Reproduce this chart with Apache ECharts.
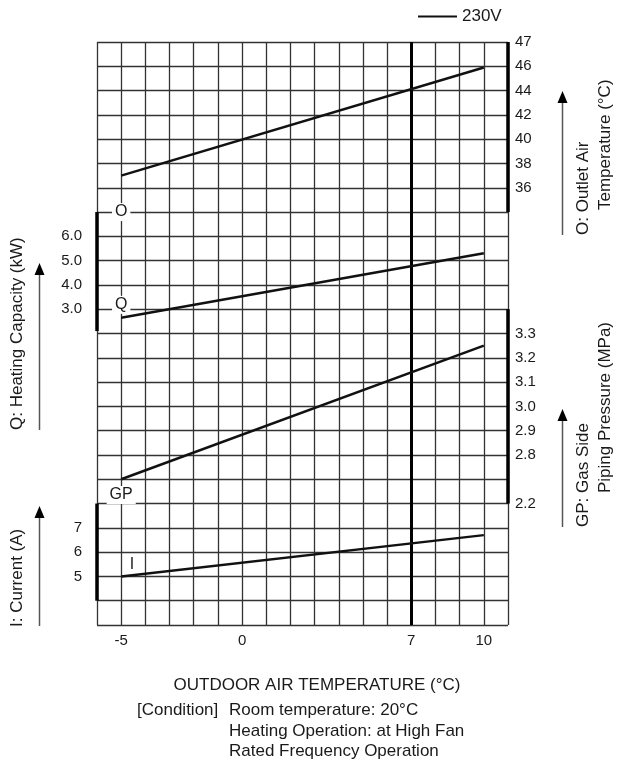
<!DOCTYPE html>
<html>
<head>
<meta charset="utf-8">
<script src="https://cdn.jsdelivr.net/npm/echarts@6/dist/echarts.min.js"></script>
<style>
html,body{margin:0;padding:0;background:#fff;}
#chart{width:618px;height:762px;}
</style>
</head>
<body>
<div id="chart"></div>
<script>
// ---- data ----
const xValues = [-5, 10];                 // outdoor air temperature (°C)
const oValues = [37, 45.9];               // O: outlet air temperature (°C)
const qValues = [2.65, 5.3];              // Q: heating capacity (kW)
const gpValues = [2.7, 3.25];             // GP: gas side piping pressure (MPa)
const iValues = [5.0, 6.7];               // I: current (A)
const ratedTemp = 7;

const xTickLabels = [-5, 0, 7, 10];
const oTickValues = [36, 38, 40, 42, 44, 46, 48];
const oTickLabels = ['36', '38', '40', '42', '44', '46', '47'];
const qTickValues = [3, 4, 5, 6];
const qTickLabels = ['3.0', '4.0', '5.0', '6.0'];
const gpTickValues = [2.6, 2.8, 2.9, 3.0, 3.1, 3.2, 3.3];
const gpTickLabels = ['2.2', '2.8', '2.9', '3.0', '3.1', '3.2', '3.3'];
const iTickValues = [5, 6, 7];
const iTickLabels = ['5', '6', '7'];

const oRange = [34, 48];
const qRange = [2.1, 7];
const gpRange = [2.6, 3.4];
const iRange = [4, 8];

// ---- chart ----
const FONT = '"Liberation Sans", Arial, Helvetica, sans-serif';
const GRID = '#333';
const INK = '#1a1a1a';

function lookup(vals, labels) {
  return function (v) {
    for (let k = 0; k < vals.length; k++) {
      if (Math.abs(vals[k] - v) < 1e-6) return labels[k];
    }
    return '';
  };
}

function yAx(pos, min, max, interval, vals, labels, margin) {
  return {
    type: 'value', position: pos, min: min, max: max, interval: interval,
    axisLine: { show: false }, axisTick: { show: false }, splitLine: { show: false },
    axisLabel: { show: true, margin: margin, color: INK, fontSize: 15, fontFamily: FONT,
      formatter: lookup(vals, labels) }
  };
}

const chart = echarts.init(document.getElementById('chart'), null, { renderer: 'canvas' });

const pairs = (ys) => xValues.map((x, i) => [x, ys[i]]);
const lineStyle = { color: '#111', width: 2.5 };

function dataLine(yIdx, ys, extra) {
  return Object.assign({
    name: '230V', type: 'line', xAxisIndex: 0, yAxisIndex: yIdx,
    data: pairs(ys), symbol: 'none', lineStyle: lineStyle, itemStyle: { color: '#111' },
    z: 5, silent: true, animation: false
  }, extra || {});
}

function bar(yIdx, xEdge, range) {
  return {
    name: 'axisbar' + yIdx, type: 'line', yAxisIndex: yIdx,
    data: [[xEdge, range[0]], [xEdge, range[1]]],
    symbol: 'none', clip: false, lineStyle: { color: '#000', width: 3.5 },
    z: 6, silent: true, animation: false
  };
}

function tag(yIdx, x, y, text, bg) {
  return {
    name: 'tag' + text, type: 'scatter', yAxisIndex: yIdx, data: [[x, y]],
    symbolSize: 1, itemStyle: { color: '#fff', opacity: 1 }, z: 7, silent: true, animation: false,
    label: { show: true, position: 'inside', formatter: text, color: INK, fontSize: 16, fontFamily: FONT,
      backgroundColor: bg ? '#fff' : 'transparent', padding: [1, 3], opacity: 1 }
  };
}

const xMin = -6, xMax = 11;
const T = (x, y, text, align, rot, size) => ({
  type: 'text', x: x, y: y, rotation: rot || 0,
  style: { text: text, fill: INK, fontSize: size || 17, fontFamily: FONT, align: align, verticalAlign: 'middle' }
});

const option = {
  animation: false,
  backgroundColor: '#fff',
  grid: { left: 97, top: 42, right: 110, bottom: 137, containLabel: false },
  legend: {
    data: [{ name: '230V', icon: 'rect' }],
    left: 418, top: 8, padding: 0, itemWidth: 39, itemHeight: 2,
    textStyle: { color: INK, fontSize: 17, fontFamily: FONT },
    selectedMode: false
  },
  xAxis: {
    type: 'value', min: xMin, max: xMax, interval: 1,
    axisLine: { show: false }, axisTick: { show: false },
    splitLine: { show: true, lineStyle: { color: GRID, width: 1.3 } },
    axisLabel: { margin: 8, color: INK, fontSize: 15, fontFamily: FONT,
      formatter: function (v) { return xTickLabels.indexOf(v) >= 0 ? String(v) : ''; } }
  },
  yAxis: [
    { type: 'value', min: 0, max: 24, interval: 1, inverse: true, position: 'left',
      axisLine: { show: false }, axisTick: { show: false }, axisLabel: { show: false },
      splitLine: { show: true, lineStyle: { color: GRID, width: 1.3 } } },
    yAx('right', 0, 48, 2, oTickValues, oTickLabels, 7),
    yAx('left', -10, 14, 1, qTickValues, qTickLabels, 15),
    yAx('right', 2.1, 4.5, 0.1, gpTickValues, gpTickLabels, 7),
    yAx('left', 3, 27, 1, iTickValues, iTickLabels, 15)
  ],
  series: [
    dataLine(1, oValues, {
      markLine: { silent: true, symbol: ['none', 'none'], label: { show: false },
        lineStyle: { color: '#000', width: 3, type: 'solid' },
        data: [{ xAxis: ratedTemp }] }
    }),
    dataLine(2, qValues),
    dataLine(3, gpValues),
    dataLine(4, iValues),
    bar(1, xMax, oRange),
    bar(2, xMin, qRange),
    bar(3, xMax, gpRange),
    bar(4, xMin, iRange),
    tag(1, -5, 34, 'O', true),
    tag(2, -5, 3.18, 'Q', true),
    tag(3, -5, 2.635, 'GP', true),
    tag(4, -4.55, 5.5, 'I', false)
  ],
  graphic: [
    T(583, 235, 'O: Outlet Air', 'left', Math.PI / 2),
    T(605, 210, 'Temperature (°C)', 'left', Math.PI / 2),
    T(583, 527, 'GP: Gas Side', 'left', Math.PI / 2),
    T(605, 493, 'Piping Pressure (MPa)', 'left', Math.PI / 2),
    T(17, 430, 'Q: Heating Capacity (kW)', 'left', Math.PI / 2),
    T(17, 627, 'I: Current (A)', 'left', Math.PI / 2),
    // arrows
    { type: 'line', shape: { x1: 562.5, y1: 235, x2: 562.5, y2: 100 }, style: { stroke: '#555', lineWidth: 1.5 } },
    { type: 'polygon', shape: { points: [[562.5, 91], [557.5, 103], [567.5, 103]] }, style: { fill: '#000' } },
    { type: 'line', shape: { x1: 562.5, y1: 527, x2: 562.5, y2: 418 }, style: { stroke: '#555', lineWidth: 1.5 } },
    { type: 'polygon', shape: { points: [[562.5, 409], [557.5, 421], [567.5, 421]] }, style: { fill: '#000' } },
    { type: 'line', shape: { x1: 39.5, y1: 430, x2: 39.5, y2: 272 }, style: { stroke: '#555', lineWidth: 1.5 } },
    { type: 'polygon', shape: { points: [[39.5, 263], [34.5, 275], [44.5, 275]] }, style: { fill: '#000' } },
    { type: 'line', shape: { x1: 39.5, y1: 626, x2: 39.5, y2: 515 }, style: { stroke: '#555', lineWidth: 1.5 } },
    { type: 'polygon', shape: { points: [[39.5, 506], [34.5, 518], [44.5, 518]] }, style: { fill: '#000' } },
    // bottom texts
    T(317, 685, 'OUTDOOR AIR TEMPERATURE (°C)', 'center'),
    T(137, 710, '[Condition]', 'left'),
    T(229, 710, 'Room temperature: 20°C', 'left'),
    T(229, 731, 'Heating Operation: at High Fan', 'left'),
    T(229, 751, 'Rated Frequency Operation', 'left')
  ]
};

chart.setOption(option);
</script>
</body>
</html>
